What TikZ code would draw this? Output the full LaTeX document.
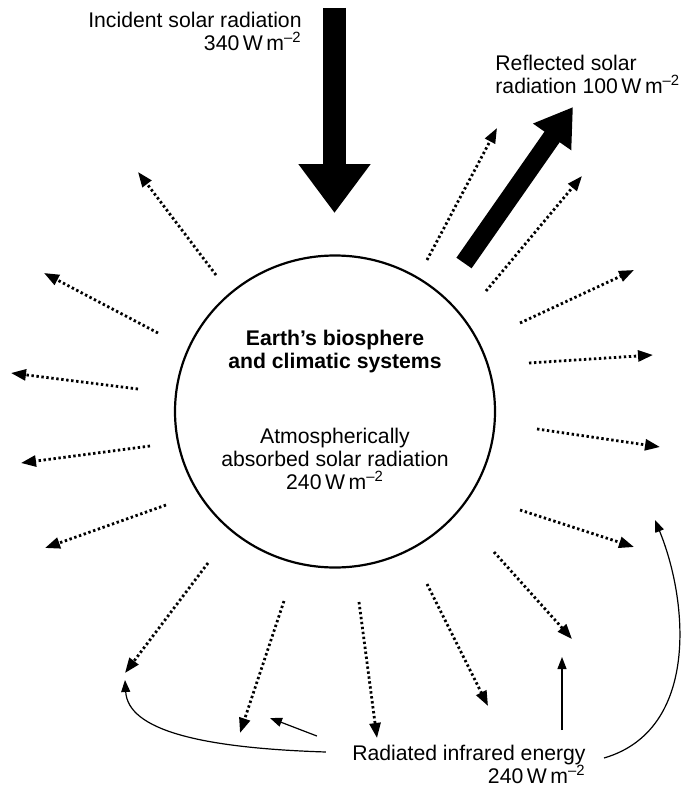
\documentclass[tikz,border=0pt]{standalone}
\usepackage{fontspec}
\setmainfont{Liberation Sans}
\usetikzlibrary{arrows.meta,shapes.geometric}

\begin{document}
\begin{tikzpicture}[x=0.5pt,y=-0.5pt]
	\tikzstyle{txt}
	  =[inner sep=0pt, font=\fontsize{10.6}{11.5}\selectfont]
	\tikzstyle{inbeam}
	  =[line width=11.5pt, -{Triangle[width=34.5pt,length=24.5pt]}]
	\tikzstyle{outbeam}
	  =[line width=9.25pt, -{Triangle[width=22pt,length=18.25pt]}]
	\tikzstyle{ir}
	  =[line width=1.4pt, dash pattern=on 1.2pt off 1.3pt,
	  -{Triangle[width=5.5pt,length=7.5pt]}]
	\tikzstyle{pointer}
	  =[line width=0.6pt, -{Triangle[width=4.5pt,length=6pt]}]

	\useasboundingbox (0,0) rectangle (681,792);

	\node[draw, ellipse, line width=1.1pt,
	  minimum width=160pt, minimum height=156pt] (earth) at (335,411.5) {};
	\node[txt, align=center, anchor=north] (systems)
	  at (335,330) {\bfseries Earth’s biosphere\\ \bfseries and climatic systems};
	\node[txt, align=center, anchor=north] (absorbed)
	  at (335,428) {Atmospherically\\absorbed solar radiation\\
	  240\,W\,m\textsuperscript{\textendash2}};

	\node[txt, align=right, anchor=north east] (incident)
	  at (302,12) {Incident solar radiation\\
	  340\,W\,m\textsuperscript{\textendash2}};
	\node[txt, align=left, anchor=north west] (reflected)
	  at (495,55) {Reflected solar\\
	  radiation 100\,W\,m\textsuperscript{\textendash2}};
	\node[txt, align=right, anchor=north east] (radiated)
	  at (586,745) {Radiated infrared energy\\
	  240\,W\,m\textsuperscript{\textendash2}};

	% solar beams
	\coordinate (sun) at (334.5,8);
	\coordinate (hit) at (334.5,213);
	\coordinate (bounce) at (464,263);
	\coordinate (space) at (573,107);
	\draw[inbeam] (sun)--(hit);
	\draw[outbeam] (bounce)--(space);

	% infrared rays
	\coordinate (ir_1a) at (216,275); \coordinate (ir_1b) at (138,172);
	\coordinate (ir_2a) at (158,333); \coordinate (ir_2b) at (44,273);
	\coordinate (ir_3a) at (138,389); \coordinate (ir_3b) at (11,373);
	\coordinate (ir_4a) at (150,446); \coordinate (ir_4b) at (21,463);
	\coordinate (ir_5a) at (166,505); \coordinate (ir_5b) at (45,548);
	\coordinate (ir_6a) at (208,563); \coordinate (ir_6b) at (125,673);
	\coordinate (ir_7a) at (284,601); \coordinate (ir_7b) at (240,733);
	\coordinate (ir_8a) at (359,602); \coordinate (ir_8b) at (377,738);
	\coordinate (ir_9a) at (427,584); \coordinate (ir_9b) at (488,706);
	\coordinate (ir_10a) at (494,552); \coordinate (ir_10b) at (572,639);
	\coordinate (ir_11a) at (520,510); \coordinate (ir_11b) at (634,547);
	\coordinate (ir_12a) at (537,429); \coordinate (ir_12b) at (660,447);
	\coordinate (ir_13a) at (529,363); \coordinate (ir_13b) at (653,355);
	\coordinate (ir_14a) at (520,323); \coordinate (ir_14b) at (634,270);
	\coordinate (ir_15a) at (486,291); \coordinate (ir_15b) at (582,176);
	\coordinate (ir_16a) at (427,260); \coordinate (ir_16b) at (497,128);

	\draw[ir] (ir_1a)--(ir_1b);
	\draw[ir] (ir_2a)--(ir_2b);
	\draw[ir] (ir_3a)--(ir_3b);
	\draw[ir] (ir_4a)--(ir_4b);
	\draw[ir] (ir_5a)--(ir_5b);
	\draw[ir] (ir_6a)--(ir_6b);
	\draw[ir] (ir_7a)--(ir_7b);
	\draw[ir] (ir_8a)--(ir_8b);
	\draw[ir] (ir_9a)--(ir_9b);
	\draw[ir] (ir_10a)--(ir_10b);
	\draw[ir] (ir_11a)--(ir_11b);
	\draw[ir] (ir_12a)--(ir_12b);
	\draw[ir] (ir_13a)--(ir_13b);
	\draw[ir] (ir_14a)--(ir_14b);
	\draw[ir] (ir_15a)--(ir_15b);
	\draw[ir] (ir_16a)--(ir_16b);

	% pointers from the label
	\coordinate (left_end) at (125,680);
	\coordinate (mid_end) at (270,718);
	\coordinate (up_end) at (562,657);
	\coordinate (right_end) at (655,520);
	\draw[pointer] ([shift={(-26,7)}]radiated.north west)
	  .. controls (200,748) and (128,730) .. (left_end);
	\draw[pointer] ([shift={(-35,-9)}]radiated.north west)--(mid_end);
	\draw[pointer] ([shift={(-24,-15)}]radiated.north east)--(up_end);
	\draw[pointer] ([shift={(18,13)}]radiated.north east)
	  .. controls (700,730) and (688,600) .. (right_end);
\end{tikzpicture}
\end{document}
